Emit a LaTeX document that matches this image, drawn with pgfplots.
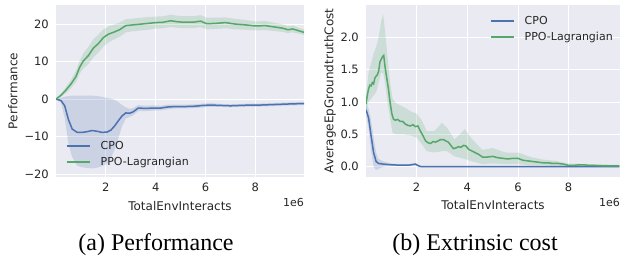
\documentclass[border=0pt]{standalone}
\usepackage{pgfplots}
\pgfplotsset{compat=1.18}
\usepackage{pgfplotstable}
\usepgfplotslibrary{fillbetween}
\usepackage{fontspec}
\setmainfont{DejaVu Sans}
\newfontfamily\capfont{Liberation Serif}
\definecolor{sbblue}{HTML}{4C72B0}
\definecolor{sbgreen}{HTML}{55A868}
\definecolor{sbbg}{HTML}{EAEAF2}
\definecolor{sbtext}{HTML}{262626}

\pgfplotstableread{
x m lo hi
0 0 0 0
0.2 -0.4 -0.9 0.3
0.35 -1.8 -5 0.6
0.5 -5.5 -12 0.8
0.65 -8.0 -15.5 0.9
0.85 -8.9 -17.8 0.9
1.05 -8.9 -18.2 0.9
1.25 -8.7 -18.4 0.9
1.45 -8.4 -18.5 0.9
1.65 -8.6 -18.3 0.8
1.85 -8.9 -17.9 0.6
2.05 -8.8 -17.3 0.3
2.2 -8.3 -15.8 0.1
2.35 -7.2 -13.5 -0.2
2.5 -5.8 -10.5 -0.8
2.65 -4.5 -7.3 -1.6
2.8 -3.7 -5.2 -2.2
2.95 -3.8 -4.8 -2.6
3.1 -3.4 -4.3 -2.4
3.3 -2.4 -3.2 -1.6
3.6 -2.5 -3.2 -1.8
3.9 -2.4 -3.1 -1.7
4.2 -2.4 -3.0 -1.8
4.5 -2.1 -2.7 -1.5
4.8 -2.0 -2.5 -1.5
5.2 -2.0 -2.5 -1.5
5.6 -1.9 -2.4 -1.4
5.9 -1.7 -2.2 -1.2
6.2 -1.6 -2.1 -1.1
6.6 -1.7 -2.1 -1.3
7.0 -1.8 -2.2 -1.4
7.4 -1.7 -2.1 -1.3
7.8 -1.6 -2.0 -1.2
8.2 -1.6 -2.0 -1.2
8.6 -1.5 -1.9 -1.1
9.0 -1.4 -1.8 -1.0
9.4 -1.3 -1.7 -0.9
9.95 -1.2 -1.6 -0.8
}\cpoperf

\pgfplotstableread{
x m lo hi
0 0 0 0
0.2 1.0 0.6 1.4
0.4 2.4 1.6 3.2
0.6 4.0 2.9 5.1
0.8 6.0 4.5 7.5
0.95 8.5 6.8 10.2
1.1 10.2 8.2 12.2
1.3 11.6 9.3 13.9
1.5 13.6 11.1 16.0
1.7 14.8 12.4 17.2
1.9 16.4 14.0 18.6
2.1 17.3 15.1 19.4
2.3 17.8 15.8 19.8
2.55 18.5 16.6 20.4
2.8 19.6 17.8 21.3
3.1 19.8 18.1 21.5
3.4 20.0 18.3 21.7
3.7 20.2 18.5 21.9
4.0 20.4 18.8 22.0
4.3 20.5 18.9 22.1
4.6 20.9 19.2 22.5
4.9 20.6 19.0 22.2
5.2 20.5 18.9 22.1
5.5 20.5 18.9 22.1
5.8 20.8 19.2 22.4
6.05 20.1 18.6 21.7
6.4 20.2 18.7 21.7
6.8 20.4 18.9 21.8
7.2 20.0 18.6 21.4
7.6 19.8 18.5 21.1
8.0 19.5 18.3 20.7
8.4 19.6 18.4 20.8
8.8 19.2 18.1 20.3
9.1 18.9 17.9 19.9
9.3 18.5 17.6 19.4
9.5 18.7 17.8 19.6
9.7 18.3 17.5 19.1
9.95 17.8 17.1 18.6
}\ppoperf

\pgfplotstableread{
x m lo hi
0 0.88 0.80 0.96
0.1 0.76 0.60 0.90
0.2 0.48 0.25 0.72
0.3 0.22 0.0 0.45
0.4 0.08 -0.05 0.22
0.5 0.05 -0.03 0.12
0.7 0.04 0.0 0.08
1.0 0.03 0.01 0.05
1.3 0.025 0.01 0.04
1.7 0.025 0.01 0.04
1.95 0.04 0.02 0.06
2.1 0.01 0.0 0.02
2.2 0 0 0.005
3 0 0 0
10 0 0 0
}\cpocost

\pgfplotstableread{
x m
0 0.97
0.05 1.10
0.1 1.20
0.15 1.26
0.2 1.25
0.25 1.30
0.3 1.28
0.35 1.37
0.4 1.40
0.45 1.42
0.5 1.48
0.55 1.62
0.6 1.66
0.65 1.70
0.7 1.72
0.75 1.55
0.8 1.42
0.88 1.22
0.95 1.00
1.02 0.82
1.08 0.74
1.15 0.72
1.25 0.73
1.35 0.70
1.45 0.70
1.55 0.66
1.65 0.64
1.75 0.63
1.85 0.65
1.95 0.62
2.05 0.63
2.15 0.55
2.25 0.48
2.35 0.40
2.45 0.37
2.55 0.36
2.65 0.39
2.75 0.38
2.85 0.40
2.95 0.42
3.05 0.42
3.15 0.40
3.25 0.38
3.35 0.33
3.45 0.28
3.55 0.29
3.65 0.31
3.75 0.30
3.85 0.33
3.95 0.32
4.05 0.27
4.15 0.25
4.3 0.22
4.45 0.19
4.6 0.15
4.8 0.15
5.0 0.16
5.2 0.14
5.4 0.13
5.6 0.12
5.8 0.13
6.0 0.13
6.2 0.10
6.4 0.09
6.6 0.08
6.8 0.07
7.0 0.06
7.2 0.06
7.4 0.05
7.6 0.05
7.8 0.04
8.0 0.02
8.2 0.02
8.4 0.03
8.6 0.03
8.8 0.02
9.0 0.02
9.3 0.015
9.6 0.015
10 0.015
}\ppocost

\pgfplotstableread{
x lo hi
0 0.85 1.10
0.1 1.0 1.45
0.2 1.05 1.6
0.3 1.10 1.75
0.4 1.15 1.85
0.5 1.3 2.0
0.6 1.45 2.25
0.68 1.45 2.36
0.75 1.3 2.1
0.85 1.0 1.7
0.95 0.75 1.3
1.05 0.52 1.05
1.2 0.50 0.98
1.5 0.50 0.92
1.8 0.48 0.85
2.0 0.45 0.82
2.2 0.35 0.72
2.4 0.24 0.55
2.7 0.22 0.55
3.0 0.24 0.68
3.2 0.24 0.60
3.5 0.16 0.42
3.9 0.12 0.58
4.2 0.08 0.42
4.6 0.04 0.26
5.0 0.05 0.29
5.5 0.04 0.22
6.0 0.04 0.22
6.5 0.02 0.15
7.0 0.02 0.11
7.5 0.01 0.09
8.0 -0.01 0.05
9.0 0.0 0.04
10 0.0 0.03
}\ppocostband

\pgfplotsset{sbstyle/.style={
  scale only axis, anchor=north west, clip mode=individual,
  axis background/.style={fill=sbbg},
  axis line style={draw=none},
  grid=major, major grid style={white, line width=0.9pt},
  major tick length=0pt,
  no markers,
  tick label style={font=\fontsize{11.5}{13}\selectfont, text=sbtext, inner sep=0pt},
  xticklabel style={anchor=base, yshift=-15pt},
  yticklabel style={anchor=east, xshift=-7pt},
  label style={font=\fontsize{12}{14}\selectfont, text=sbtext},
  xtick={2,4,6,8}, xticklabels={2,4,6,8},
  legend style={draw=none, fill=none, inner sep=0pt, row sep=6.5pt, column sep=10pt,
     font=\fontsize{11}{13}\selectfont, text=sbtext,
     nodes={inner sep=0pt, text height=8.5pt, text depth=1pt}},
  legend cell align=left,
  legend image code/.code={\draw[#1] (0pt,0pt) -- (23pt,0pt);},
}}

\begin{document}
\begin{tikzpicture}

\begin{axis}[sbstyle, at={(56pt,-5pt)}, width=248pt, height=172pt,
  xmin=0, xmax=9.95, ymin=-20.8, ymax=25.1,
  ytick={-20,-10,0,10,20}, yticklabels={−20,−10,0,10,20},
  xlabel={TotalEnvInteracts}, ylabel={Performance},
  xlabel style={at={(axis description cs:0.5,-0.1919)}, anchor=base},
  ylabel style={at={(axis description cs:-0.1734,0.5)}, anchor=center},
  legend style={at={(axis description cs:0.0403,0.2081)}, anchor=north west},
]
\addplot[draw=none, name path=cA, forget plot] table[x=x,y=hi]{\cpoperf};
\addplot[draw=none, name path=cB, forget plot] table[x=x,y=lo]{\cpoperf};
\addplot[sbblue, fill opacity=0.2, draw=none, forget plot] fill between[of=cA and cB];
\addplot[draw=none, name path=pA, forget plot] table[x=x,y=hi]{\ppoperf};
\addplot[draw=none, name path=pB, forget plot] table[x=x,y=lo]{\ppoperf};
\addplot[sbgreen, fill opacity=0.2, draw=none, forget plot] fill between[of=pA and pB];
\addplot[sbblue, line width=1.5pt] table[x=x,y=m]{\cpoperf};
\addlegendentry{CPO}
\addplot[sbgreen, line width=1.5pt] table[x=x,y=m]{\ppoperf};
\addlegendentry{PPO-Lagrangian}
\node[anchor=base east, font=\fontsize{11}{13}\selectfont, text=sbtext, inner sep=0pt, yshift=-29.7pt] at (rel axis cs:1,0) {1e6};
\end{axis}

\begin{axis}[sbstyle, at={(366pt,-5pt)}, width=254pt, height=171.7pt,
  xmin=0, xmax=10.03, ymin=-0.154, ymax=2.5,
  ytick={0,0.5,1,1.5,2}, yticklabels={0.0,0.5,1.0,1.5,2.0},
  xlabel={TotalEnvInteracts}, ylabel={AverageEpGroundtruthCost},
  xlabel style={at={(axis description cs:0.5,-0.1919)}, anchor=base},
  ylabel style={at={(axis description cs:-0.1417,0.5)}, anchor=center},
  legend style={at={(axis description cs:0.4882,0.9348)}, anchor=north west},
]
\addplot[draw=none, name path=cA, forget plot] table[x=x,y=hi]{\cpocost};
\addplot[draw=none, name path=cB, forget plot] table[x=x,y=lo]{\cpocost};
\addplot[sbblue, fill opacity=0.2, draw=none, forget plot] fill between[of=cA and cB];
\addplot[draw=none, name path=pA, forget plot] table[x=x,y=hi]{\ppocostband};
\addplot[draw=none, name path=pB, forget plot] table[x=x,y=lo]{\ppocostband};
\addplot[sbgreen, fill opacity=0.2, draw=none, forget plot] fill between[of=pA and pB];
\addplot[sbblue, line width=1.5pt] table[x=x,y=m]{\cpocost};
\addlegendentry{CPO}
\addplot[sbgreen, line width=1.5pt] table[x=x,y=m]{\ppocost};
\addlegendentry{PPO-Lagrangian}
\node[anchor=base east, font=\fontsize{11}{13}\selectfont, text=sbtext, inner sep=0pt, yshift=-29.7pt] at (rel axis cs:1,0) {1e6};
\end{axis}

\node[anchor=base, inner sep=0pt, font=\capfont\fontsize{24}{28}\selectfont] at (156pt,-251pt) {(a) Performance};
\node[anchor=base, inner sep=0pt, font=\capfont\fontsize{24}{28}\selectfont] at (475pt,-251pt) {(b) Extrinsic cost};
\pgfresetboundingbox
\path[use as bounding box] (0,0) rectangle (620pt,-261pt);
\end{tikzpicture}
\end{document}
